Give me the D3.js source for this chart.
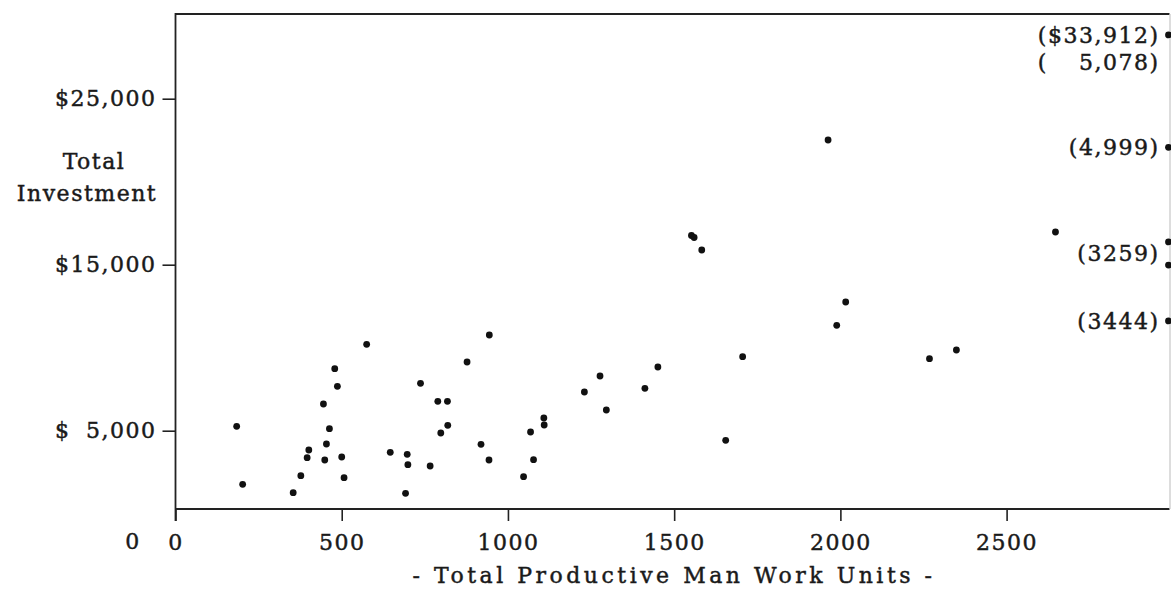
<!DOCTYPE html>
<html>
<head>
<meta charset="utf-8">
<script src="https://cdn.jsdelivr.net/npm/d3@7"></script>
<style>
  body { margin: 0; background: #fff; }
  svg { display: block; }
  text { font-family: "DejaVu Serif", serif; font-size: 22px; fill: #1a1a1a; stroke: #1a1a1a; stroke-width: 0.45px; letter-spacing: 1.5px; }
</style>
</head>
<body>
<svg id="chart" width="1171" height="590"></svg>
<script>
// work units (x) and total investment in dollars (y)
const workUnits = [
  184, 202, 354, 377, 396, 401, 445, 449, 454, 463,
  479, 487, 500, 507, 575, 646, 692, 697, 699, 737,
  766, 789, 798, 818, 819, 877, 919, 943, 944, 1047,
  1068, 1077, 1108, 1109, 1230, 1277, 1296, 1412, 1451, 1552,
  1560, 1583, 1655, 1706, 1963, 1989, 2016, 2268, 2349, 2647
]
const investment = [
  5265, 1771, 1265, 2289, 3373, 3837, 6608, 3235, 4199, 5120,
  8735, 7675, 3416, 2169, 10205, 3699, 1229, 3578, 2952, 7855,
  2873, 6771, 4861, 6771, 5325, 9139, 4181, 3235, 10765, 2229,
  4922, 3253, 5765, 5343, 7331, 8295, 6247, 7554, 8837, 16760,
  16640, 15886, 4422, 9458, 22512, 11349, 12753, 9337, 9861, 16970
]

// points beyond the right edge: investment where the dot is pinned, and their labels
const offInvest = [28840, 22070, 16370, 14980, 11610]
const offLabels = [
  { lines: ["($33,912)", "(\u2007\u20075,078)"], at: 28840 },
  { lines: ["(4,999)"], at: 22070 },
  { lines: ["(3259)"], at: 15675 },
  { lines: ["(3444)"], at: 11610 }
]

const xTicks = [0, 500, 1000, 1500, 2000, 2500]
const yTicks = [5000, 15000, 25000]
const yTickLabels = ["$\u20075,000", "$15,000", "$25,000"]

const svg = d3.select('#chart')

const plotLeft = 175.5, plotRight = 1169.5, plotTop = 14, plotBottom = 509

const x = d3.scaleLinear()
  .domain([0, 2990])
  .range([plotLeft, plotRight])

const y = d3.scaleLinear()
  .domain([0, 25000])
  .range([513.7, 98.7])

// frame
svg.append('line')
  .attr('x1', plotLeft).attr('x2', plotRight).attr('y1', plotTop).attr('y2', plotTop)
  .attr('stroke', '#222').attr('stroke-width', 2)
svg.append('line')
  .attr('x1', plotLeft).attr('x2', plotLeft).attr('y1', plotTop - 1).attr('y2', plotBottom + 12)
  .attr('stroke', '#222').attr('stroke-width', 1.8)
svg.append('line')
  .attr('x1', plotLeft).attr('x2', plotRight).attr('y1', plotBottom).attr('y2', plotBottom)
  .attr('stroke', '#222').attr('stroke-width', 2)
svg.append('line')
  .attr('x1', plotRight + 0.5).attr('x2', plotRight + 0.5).attr('y1', plotTop).attr('y2', plotBottom)
  .attr('stroke', '#bbb').attr('stroke-width', 1)

// y axis
const yAxis = d3.axisLeft(y)
  .tickValues(yTicks)
  .tickFormat((d, i) => yTickLabels[i])
  .tickSize(13)
  .tickPadding(6)

const yg = svg.append('g')
  .attr('transform', `translate(${plotLeft},0)`)
  .call(yAxis)
yg.attr('font-family', null).attr('font-size', null)
yg.select('.domain').remove()
yg.selectAll('line').attr('stroke', '#222').attr('stroke-width', 1.6)
yg.selectAll('text').attr('fill', '#1a1a1a')

// x axis
const xAxis = d3.axisBottom(x)
  .tickValues(xTicks)
  .tickFormat(d3.format('d'))
  .tickSize(12)
  .tickPadding(13)

const xg = svg.append('g')
  .attr('transform', `translate(0,${plotBottom})`)
  .call(xAxis)
xg.attr('font-family', null).attr('font-size', null)
xg.select('.domain').remove()
xg.selectAll('line').attr('stroke', '#222').attr('stroke-width', 1.6)
xg.selectAll('text').attr('fill', '#1a1a1a')

// stray zero at the left of the x labels
svg.append('text')
  .attr('x', 133).attr('y', 549)
  .attr('text-anchor', 'middle')
  .text('0')

// axis titles
svg.append('text')
  .attr('x', 94).attr('y', 169)
  .attr('text-anchor', 'middle')
  .text('Total')
svg.append('text')
  .attr('x', 87).attr('y', 201)
  .attr('text-anchor', 'middle')
  .text('Investment')

svg.append('text')
  .attr('x', 674).attr('y', 583)
  .attr('text-anchor', 'middle')
  .style('letter-spacing', '3.5px')
  .text('- Total Productive Man Work Units -')

// points
svg.append('g')
  .selectAll('circle')
  .data(workUnits.map((d, i) => [d, investment[i]]))
  .join('circle')
    .attr('cx', d => x(d[0]))
    .attr('cy', d => y(d[1]))
    .attr('r', 3.4)
    .attr('fill', '#111')

// off-scale points pinned to right edge
svg.append('g')
  .selectAll('circle')
  .data(offInvest)
  .join('circle')
    .attr('cx', x(2990) - 1)
    .attr('cy', d => y(d))
    .attr('r', 3.4)
    .attr('fill', '#111')

const lab = svg.append('g')
  .selectAll('text')
  .data(offLabels)
  .join('text')
    .attr('text-anchor', 'end')
    .attr('x', x(2990) - 10)
    .attr('y', d => y(d.at) + 8)
    .style('white-space', 'pre')

lab.selectAll('tspan')
  .data(d => d.lines)
  .join('tspan')
    .attr('x', x(2990) - 10)
    .attr('dy', (d, i) => i === 0 ? 0 : 27)
    .text(d => d)
</script>
</body>
</html>
